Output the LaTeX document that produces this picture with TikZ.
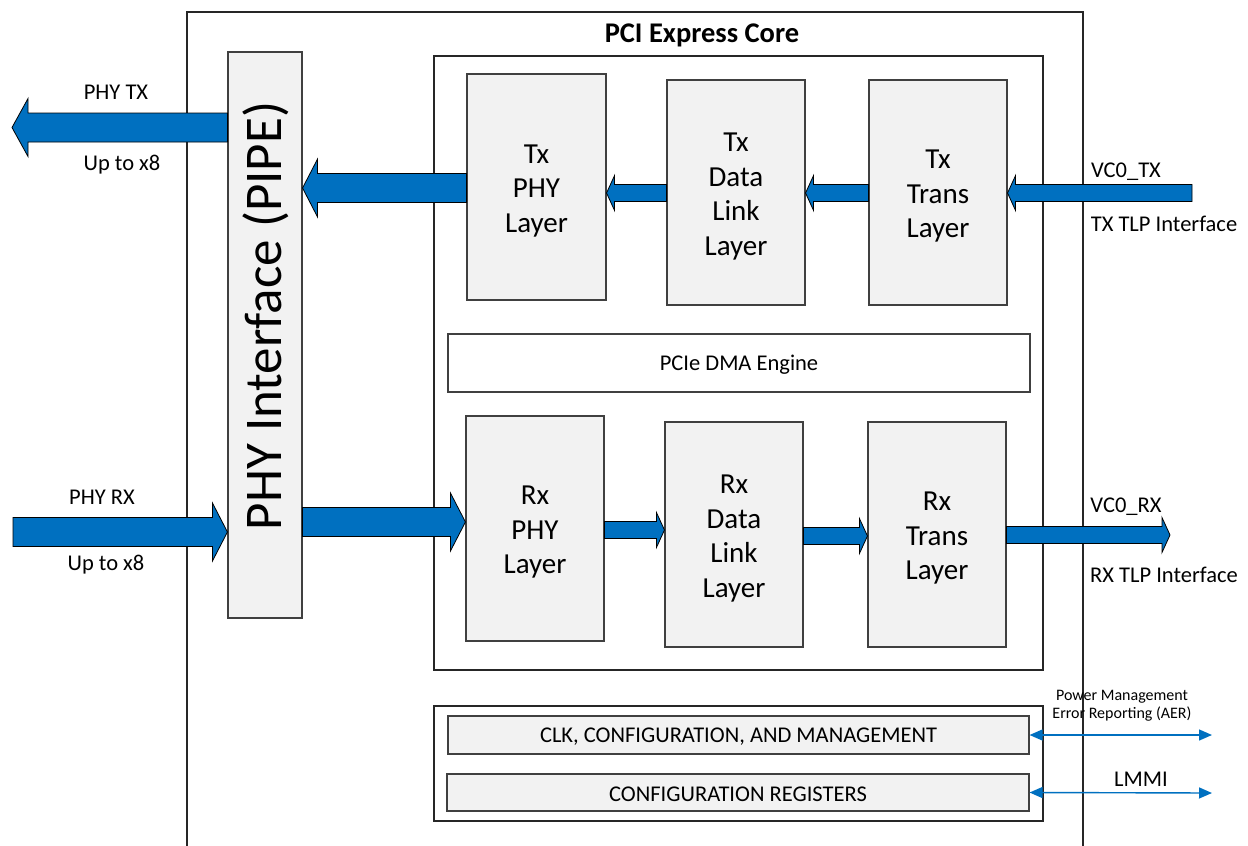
\documentclass[tikz,border=0pt]{standalone}
\usepackage{fontspec}
\setmainfont{Carlito}
\usetikzlibrary{calc,arrows.meta}
\definecolor{ablue}{HTML}{0070C0}
\definecolor{boxfill}{HTML}{F2F2F2}
\definecolor{edge}{HTML}{404040}
\tikzset{
  blk/.style={draw=edge, line width=1.1pt, fill=boxfill, inner sep=0pt, align=center},
  frame/.style={draw=black!85, line width=1.1pt},
  barrow/.style={fill=ablue, draw=black, line width=0.8pt},
  lbl/.style={font=\fontsize{22.5}{24}\selectfont, inner sep=0pt, yshift=-2pt},
  layertext/.style={label={[font=\fontsize{29}{34.5}\selectfont, align=center, yshift=-4pt]center:#1}},
  dbl/.style={draw=ablue, line width=1.4pt, {Triangle[length=13pt,width=11pt]}-{Triangle[length=13pt,width=11pt]}}
}
\newcommand\blockarrow[5]{%
  \draw[barrow] let \p1=(#1), \p2=(#2), \n1={sign(\x2-\x1)} in
    (\x1,\y1+#3) -- (\x2-\n1*#5,\y1+#3) -- (\x2-\n1*#5,\y1+#4) -- (\x2,\y1)
    -- (\x2-\n1*#5,\y1-#4) -- (\x2-\n1*#5,\y1-#3) -- (\x1,\y1-#3) -- cycle;}
\begin{document}
\begin{tikzpicture}[x=1pt,y=-1pt]
\useasboundingbox (0,0) rectangle (1248,846);
% outer core frame (open at bottom)
\draw[frame] (187,846) -- (187,12) -- (1083,12) -- (1083,846);
\node[font=\fontsize{28.5}{30}\selectfont\bfseries] (title) at (702,35) {PCI Express Core};
% PIPE
\node[blk, minimum width=74pt, minimum height=566pt] (pipe) at (265,335) {};
\node[rotate=90, font=\fontsize{53}{60}\selectfont] (pipetxt) at (266,316) {PHY Interface (PIPE)};
% inner frame
\draw[frame] (434,56) rectangle (1043,670);
% Tx boxes
\node[blk, minimum width=139pt, minimum height=226pt, layertext={Tx\\PHY\\Layer}] (txphy) at (536.5,187) {};
\node[blk, minimum width=138pt, minimum height=225pt, layertext={Tx\\Data\\Link\\Layer}] (txdll) at (736,192.5) {};
\node[blk, minimum width=138pt, minimum height=225pt, layertext={Tx\\Trans\\Layer}] (txtl) at (938,192.5) {};
% DMA
\node[draw=edge, line width=1.1pt, fill=white, minimum width=582pt, minimum height=58pt] (dma) at (739,363) {};
\node[lbl] (dmatxt) at (dma) {PCIe DMA Engine};
% Rx boxes
\node[blk, minimum width=138pt, minimum height=225pt, layertext={Rx\\PHY\\Layer}] (rxphy) at (535,528.5) {};
\node[blk, minimum width=138pt, minimum height=225pt, layertext={Rx\\Data\\Link\\Layer}] (rxdll) at (734,534.5) {};
\node[blk, minimum width=138pt, minimum height=225pt, layertext={Rx\\Trans\\Layer}] (rxtl) at (937,534.5) {};
% lower frame
\draw[frame] (434,706) rectangle (1043,821);
\node[blk, minimum width=581pt, minimum height=38pt] (clk) at (738.5,735) {};
\node[lbl] (clktxt) at (clk) {CLK, CONFIGURATION, AND MANAGEMENT};
\node[blk, minimum width=582pt, minimum height=37pt] (cfg) at (738,792.5) {};
\node[lbl] (cfgtxt) at (cfg) {CONFIGURATION REGISTERS};
% coordinates for free ends
\coordinate (phytxend) at (12,127.5);
\coordinate (phyrxstart) at (13,532);
\coordinate (vctxstart) at (1192,193);
\coordinate (vcrxend) at (1170,535);
\coordinate (aerend) at (1212,735);
\coordinate (lmmiend) at (1212,793);
% block arrows
\blockarrow{pipe.west |- phytxend}{phytxend}{14.5pt}{29pt}{16pt}
\blockarrow{txphy.west |- 0,188}{pipe.east |- 0,188}{14.5pt}{29pt}{15pt}
\blockarrow{txdll.west |- 0,193}{txphy.east |- 0,193}{8.5pt}{17.5pt}{8pt}
\blockarrow{txtl.west |- 0,193}{txdll.east |- 0,193}{8.5pt}{17.5pt}{8pt}
\blockarrow{vctxstart}{txtl.east |- vctxstart}{8.5pt}{17.5pt}{8pt}
\blockarrow{phyrxstart}{pipe.west |- phyrxstart}{14.5pt}{29pt}{15pt}
\blockarrow{pipe.east |- 0,522}{rxphy.west |- 0,522}{14.5pt}{29pt}{15pt}
\blockarrow{rxphy.east |- 0,530}{rxdll.west |- 0,530}{8.5pt}{17.5pt}{8pt}
\blockarrow{rxdll.east |- 0,536}{rxtl.west |- 0,536}{8.5pt}{17.5pt}{8pt}
\blockarrow{rxtl.east |- vcrxend}{vcrxend}{8.5pt}{17.5pt}{8pt}
% double arrows
\draw[dbl] (clk.east) -- (aerend);
\draw[dbl] (cfg.east) -- (lmmiend);
% labels
\node[lbl] (l1) at (116,90) {PHY TX};
\node[lbl] (l2) at (122,163) {Up to x8};
\node[lbl] (l3) at (102,495) {PHY RX};
\node[lbl] (l4) at (106,563) {Up to x8};
\node[lbl] (l5) at (1126,170) {VC0\_TX};
\node[lbl] (l6) at (1164,222) {TX TLP Interface};
\node[lbl] (l7) at (1126,505) {VC0\_RX};
\node[lbl] (l8) at (1164,573) {RX TLP Interface};
\node[font=\fontsize{16}{18}\selectfont, align=center, inner sep=0pt] (l9) at (1122,706) {Power Management\\Error Reporting (AER)};
\node[lbl] (l10) at (1141,777) {LMMI};
\end{tikzpicture}
\end{document}
